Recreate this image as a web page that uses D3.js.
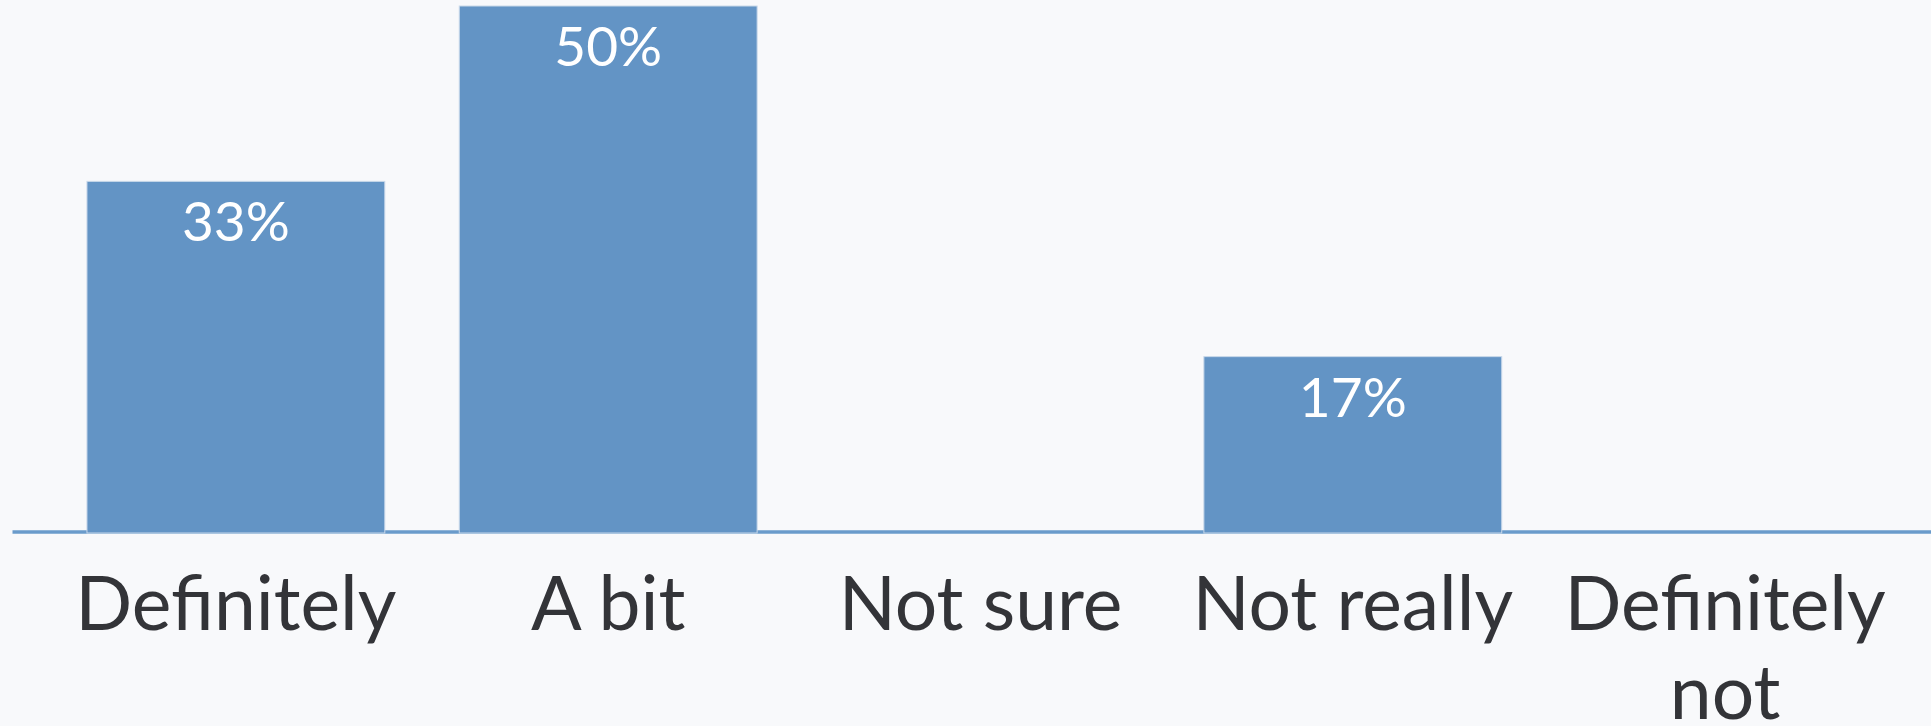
<!DOCTYPE html>
<html>
<head>
<meta charset="utf-8">
<script src="https://cdn.jsdelivr.net/npm/d3@7/dist/d3.min.js"></script>
<style>
  html, body { margin: 0; padding: 0; background: #f8f9fb; }
  svg { display: block; }
</style>
</head>
<body>
<script>
const categories = ["Definitely", "A bit", "Not sure", "Not really", "Definitely not"];
const values = [33.33, 50, 0, 16.67, 0];
const valueLabels = ["33%", "50%", "", "17%", ""];

const W = 1931, H = 726;
const svg = d3.select("body").append("svg").attr("width", W).attr("height", H);
svg.append("rect").attr("width", W).attr("height", H).attr("fill", "#f8f9fb");

const baseline = 532;
const x = d3.scaleBand().domain(categories).range([12.5, 1948.5]).padding(0.2);
const y = d3.scaleLinear().domain([0, 50]).range([baseline, 6]);

const data = categories.map((c, i) => ({ c, v: values[i], label: valueLabels[i] }));

// axis line
svg.append("line")
  .attr("x1", x.range()[0]).attr("x2", x.range()[1])
  .attr("y1", baseline).attr("y2", baseline)
  .attr("stroke", "#6a9bcb").attr("stroke-width", 3.5);

svg.selectAll("rect.bar").data(data.filter(d => d.v > 0)).join("rect")
  .attr("class", "bar")
  .attr("x", d => x(d.c))
  .attr("width", x.bandwidth())
  .attr("y", d => y(d.v))
  .attr("height", d => baseline + 1 - y(d.v))
  .attr("fill", "#6394c5")
  .attr("stroke", "#c9d9ea").attr("stroke-width", 1);

svg.selectAll("text.val").data(data.filter(d => d.v > 0)).join("text")
  .attr("class", "val")
  .attr("x", d => x(d.c) + x.bandwidth() / 2)
  .attr("y", d => y(d.v) + 60)
  .attr("text-anchor", "middle")
  .attr("fill", "#ffffff")
  .attr("font-family", "Lato, 'Open Sans', sans-serif")
  .attr("font-size", 55)
  .text(d => d.label);

// category labels with wrap
const fontSize = 75;
const catG = svg.append("g");
data.forEach(d => {
  const cx = x(d.c) + x.bandwidth() / 2;
  const t = catG.append("text")
    .attr("x", cx)
    .attr("y", 630)
    .attr("text-anchor", "middle")
    .attr("fill", "#333438")
    .attr("font-family", "Lato, 'Open Sans', sans-serif")
    .attr("font-size", fontSize);
  const words = d.c.split(" ");
  let line = [];
  let tspan = t.append("tspan").attr("x", cx).attr("dy", 0);
  words.forEach(w => {
    line.push(w);
    tspan.text(line.join(" "));
    if (tspan.node().getComputedTextLength() > x.bandwidth() * 1.25 && line.length > 1) {
      line.pop();
      tspan.text(line.join(" "));
      line = [w];
      tspan = t.append("tspan").attr("x", cx).attr("dy", 89).text(w);
    }
  });
});
</script>
</body>
</html>
